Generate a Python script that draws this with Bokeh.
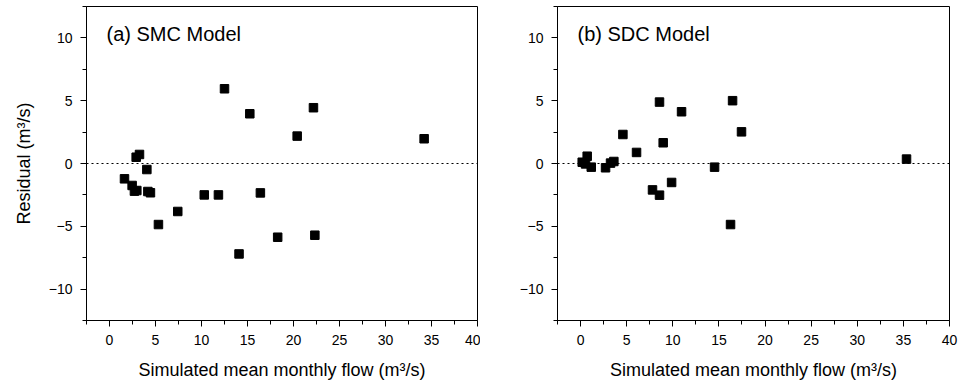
from bokeh.plotting import figure
from bokeh.layouts import row
from bokeh.models import Range1d, FixedTicker, Span, Label, ColumnDataSource
from bokeh.embed import file_html
from bokeh.resources import INLINE

# SMC model residuals
smc_flow = [1.63, 2.46, 2.71, 2.97, 2.9, 3.26, 4.06, 4.17, 4.45, 5.32, 7.42,
            10.3, 11.84, 12.5, 14.08, 15.25, 16.4, 18.28, 20.4, 22.17, 22.32, 34.2]
smc_resid = [-1.22, -1.75, -2.2, -2.15, 0.5, 0.72, -0.48, -2.23, -2.33, -4.86, -3.82,
             -2.5, -2.5, 5.95, -7.2, 3.96, -2.34, -5.87, 2.18, 4.44, -5.71, 1.97]

# SDC model residuals
sdc_flow = [0.18, 0.72, 0.54, 1.16, 2.71, 3.25, 3.61, 4.59, 6.07, 7.8, 8.56,
            8.56, 8.96, 9.87, 10.95, 14.53, 16.26, 16.48, 17.45, 35.34]
sdc_resid = [0.1, 0.58, -0.03, -0.29, -0.34, 0.03, 0.16, 2.31, 0.88, -2.1, -2.52,
             4.89, 1.65, -1.51, 4.12, -0.29, -4.86, 5.0, 2.52, 0.35]

x_major = [0, 5, 10, 15, 20, 25, 30, 35, 40]
x_minor = [-2.5, 2.5, 7.5, 12.5, 17.5, 22.5, 27.5, 32.5, 37.5]
y_major = [-10, -5, 0, 5, 10]
y_minor = [-12.5, -7.5, -2.5, 2.5, 7.5, 12.5]

FONT = "Liberation Sans"


def make_panel(xs, ys, title, width, border_left, border_right, ylabel):
    p = figure(width=width, height=387, output_backend="svg", toolbar_location=None,
               x_range=Range1d(-2.5, 40), y_range=Range1d(-12.5, 12.5),
               min_border_left=border_left, min_border_right=border_right,
               min_border_top=6, min_border_bottom=67)
    p.xgrid.visible = False
    p.ygrid.visible = False
    p.outline_line_color = "black"
    p.outline_line_width = 1
    p.background_fill_color = "white"
    p.border_fill_color = "white"

    p.xaxis.ticker = FixedTicker(ticks=x_major, minor_ticks=x_minor)
    p.yaxis.ticker = FixedTicker(ticks=y_major, minor_ticks=y_minor)
    for ax in (p.xaxis[0], p.yaxis[0]):
        ax.major_tick_in = 0
        ax.major_tick_out = 6
        ax.minor_tick_in = 0
        ax.minor_tick_out = 4
        ax.axis_line_color = "black"
        ax.major_tick_line_color = "black"
        ax.minor_tick_line_color = "black"
        ax.major_label_text_font = FONT
        ax.major_label_text_font_size = "14px"
        ax.major_label_text_color = "black"
        ax.axis_label_text_font = FONT
        ax.axis_label_text_font_size = "18px"
        ax.axis_label_text_font_style = "normal"
        ax.axis_label_text_color = "black"
    p.xaxis.major_label_standoff = 8
    p.yaxis.major_label_standoff = 8
    p.xaxis.axis_label = "Simulated mean monthly flow (m³/s)"
    p.xaxis.axis_label_standoff = 12
    if ylabel:
        p.yaxis.axis_label = "Residual (m³/s)"
        p.yaxis.axis_label_standoff = 12

    p.add_layout(Span(location=0, dimension="width", line_color="black",
                      line_dash="2 3", line_width=1))

    src = ColumnDataSource(dict(x=xs, y=ys))
    p.scatter("x", "y", source=src, marker="square", size=8.5,
              fill_color="black", line_color="black")

    p.add_layout(Label(x=20, y=287, x_units="screen", y_units="screen", text=title,
                       text_font=FONT, text_font_size="20px", text_color="black",
                       text_baseline="middle", text_align="left"))
    return p


left = make_panel(smc_flow, smc_resid, "(a) SMC Model", 480, 86, 3, True)
right = make_panel(sdc_flow, sdc_resid, "(b) SDC Model", 479, 77, 10, False)

layout = row(left, right)
open("out.html", "w").write(file_html(layout, INLINE))
